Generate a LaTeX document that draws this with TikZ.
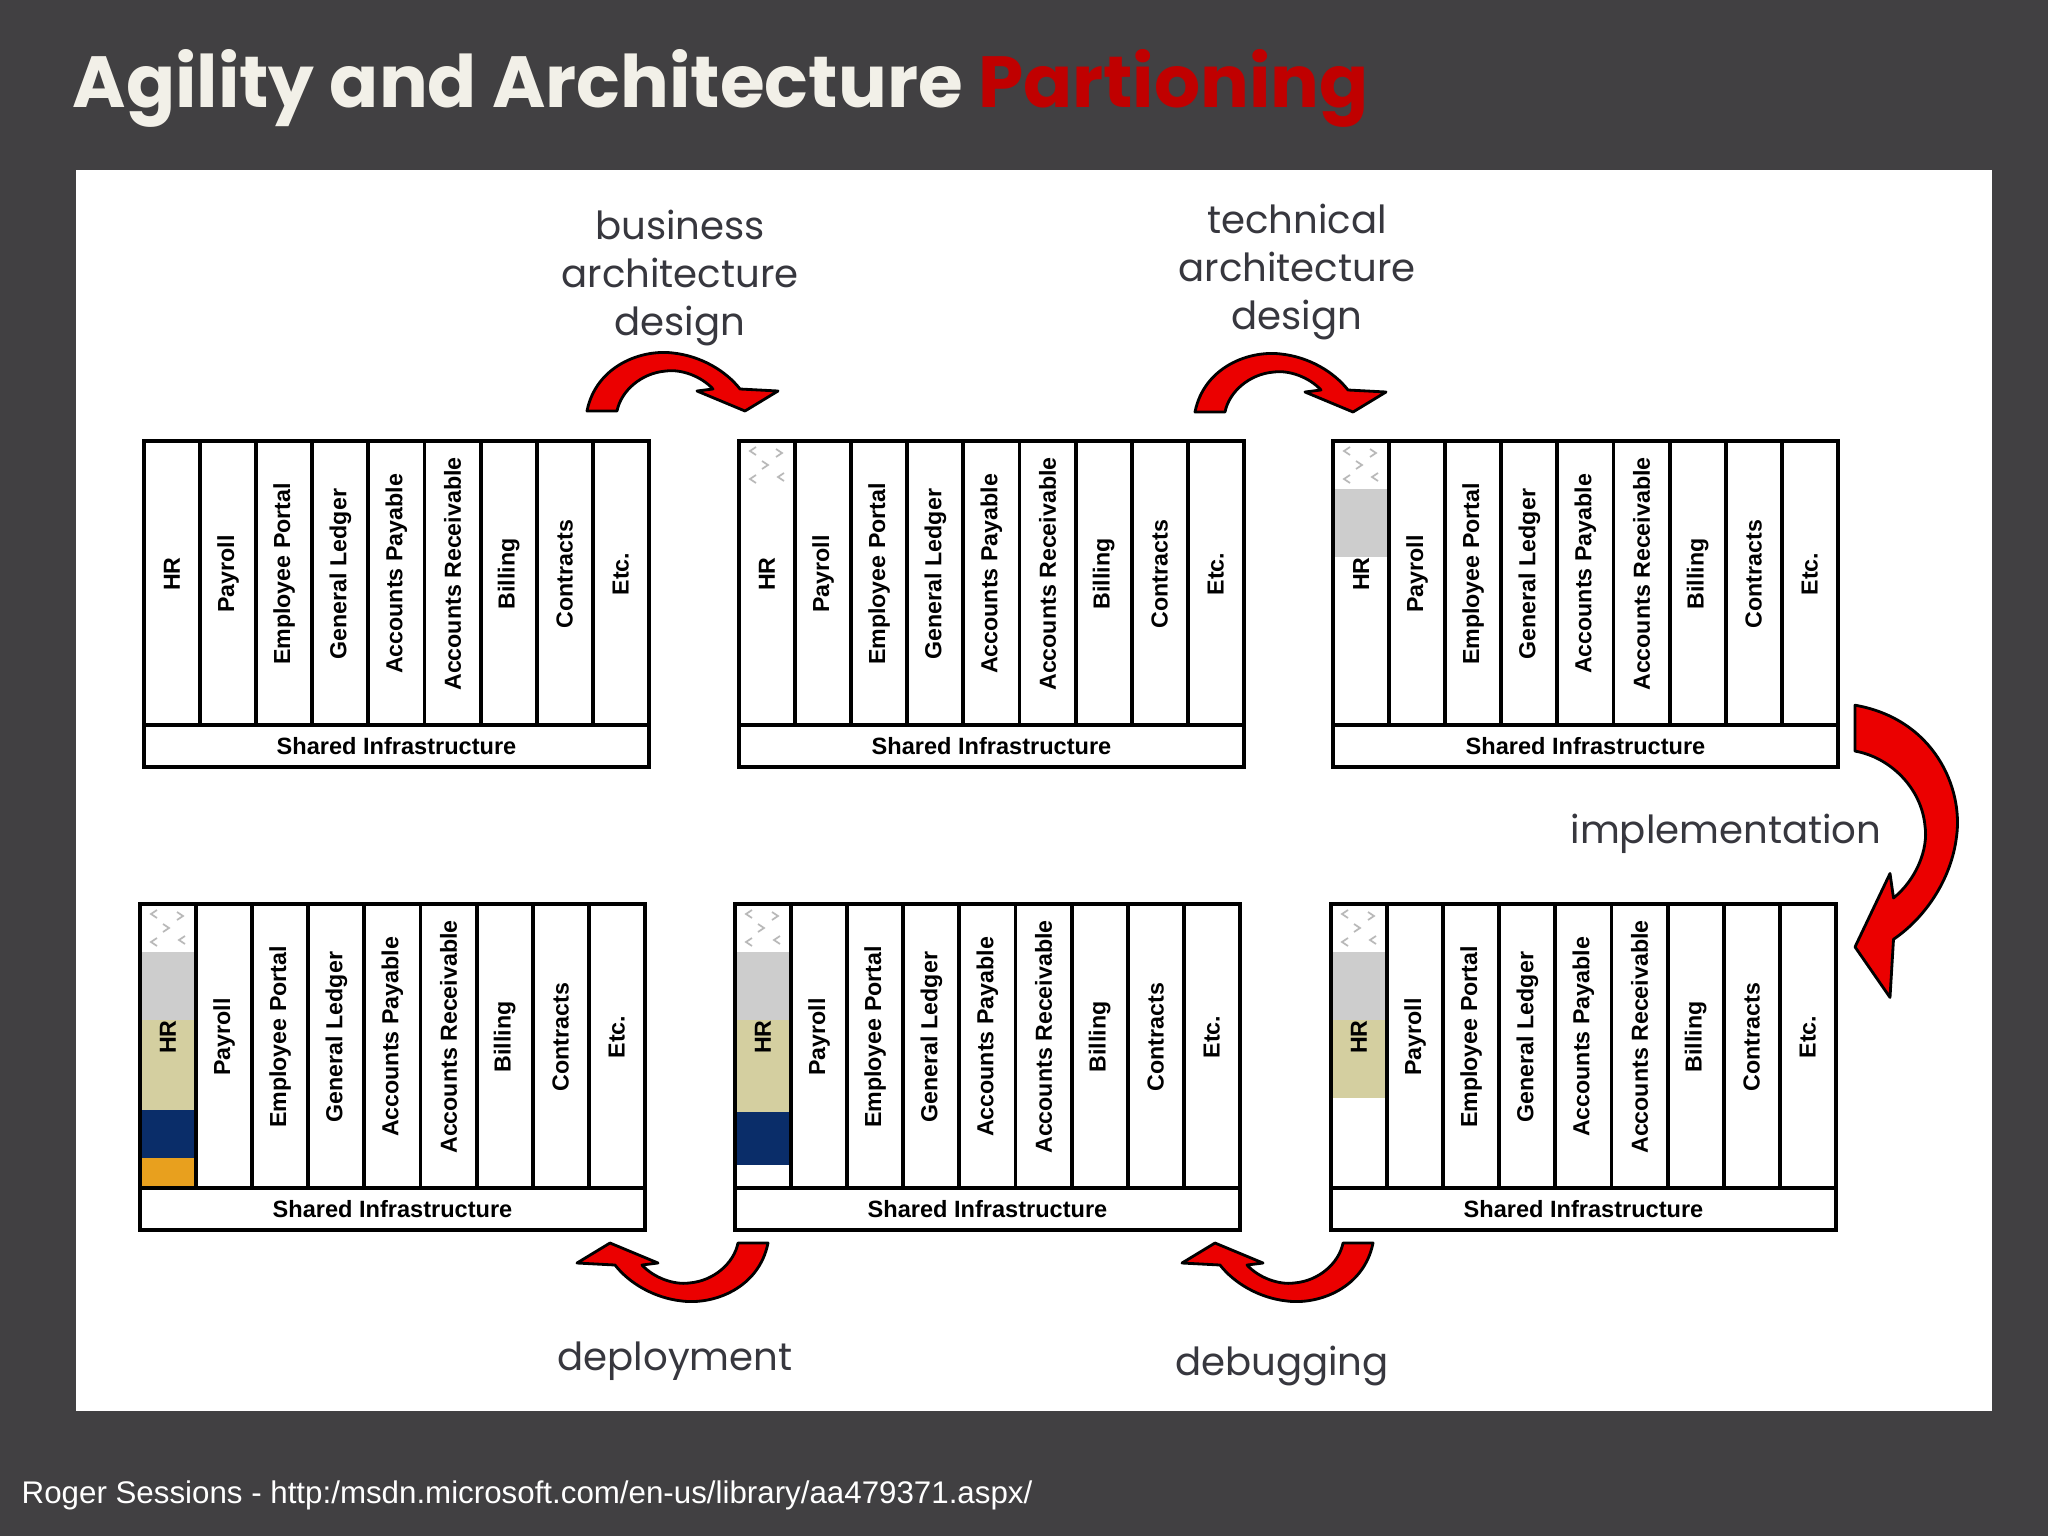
\documentclass[tikz,border=0pt]{standalone}
\usepackage{fontspec}
\setmainfont{Liberation Sans}
\newfontfamily\gothic{Poppins}

\definecolor{slide}{RGB}{65,64,66}
\definecolor{titlewhite}{RGB}{242,240,232}
\definecolor{titlered}{RGB}{192,0,0}
\definecolor{stepgray}{RGB}{205,205,205}
\definecolor{khaki}{RGB}{212,207,160}
\definecolor{navyband}{RGB}{10,45,105}
\definecolor{orangeband}{RGB}{232,160,30}
\definecolor{captiongray}{RGB}{55,55,62}
\definecolor{arrowred}{RGB}{235,0,0}

\tikzset{
  cell/.style={draw=black, line width=1.1pt},
  applabel/.style={rotate=90, font=\bfseries\fontsize{6.6}{7}\selectfont, inner sep=0pt},
  infralabel/.style={font=\bfseries\fontsize{6.7}{7}\selectfont, inner sep=0pt},
  caption/.style={font=\gothic\fontsize{11}{13.7}\selectfont, text=captiongray, align=center},
  redband/.style={fill=arrowred, draw=black, line width=0.8pt, line join=round},
  bendarrow/.pic={
    \path[redband] (-94,0) .. controls (-85,-45) and (-40,-62) .. (-8,-58)
      .. controls (20,-55) and (45,-40) .. (59,-22) -- (97,-20) -- (64,0)
      -- (16,-20) -- (32,-22) .. controls (20,-35) and (0,-42) .. (-15,-40)
      .. controls (-40,-38) and (-60,-20) .. (-64,0) -- cycle;
  },
  partition/.pic={
    % how far the HR column has got
    \ifnum#1>0
      \foreach \cx/\cy/\dir in {14/10/1, 40/12/-1, 26/24/-1, 14/38/1, 42/36/1}
        \draw[gray!55, line width=0.5pt] (\cx+3*\dir,\cy-4) -- (\cx-3*\dir,\cy) -- (\cx+3*\dir,\cy+4);
    \fi
    \ifnum#1>1 \fill[stepgray] (0,48) rectangle (56,116); \fi
    \ifnum#1=3 \fill[khaki] (0,116) rectangle (56,194); \fi
    \ifnum#1=4
      \fill[khaki] (0,116) rectangle (56,208);
      \fill[navyband] (0,208) rectangle (56,261);
    \fi
    \ifnum#1=5
      \fill[khaki] (0,116) rectangle (56,206);
      \fill[navyband] (0,206) rectangle (56,254);
      \fill[orangeband] (0,254) rectangle (56,284);
    \fi
    \foreach \lab [count=\i from 0] in {HR,Payroll,Employee Portal,General Ledger,Accounts Payable,Accounts Receivable,Billing,Contracts,Etc.} {
      \draw[cell] (\i*56.1,0) rectangle ++(56.1,284);
      \node[applabel] (-app\i) at (\i*56.1+28,133) {\lab};
    }
    \draw[cell] (0,284) rectangle (505,326);
    \node[infralabel] (-infra) at (252.5,305) {Shared Infrastructure};
  }
}

\begin{document}
\begin{tikzpicture}[x=0.01cm, y=-0.01cm]
  \fill[slide] (0,0) rectangle (2048,1536);
  \fill[white] (76,170) rectangle (1992,1411);

  \node[anchor=base west, font=\gothic\bfseries\fontsize{20.6}{25}\selectfont, text=titlewhite, inner sep=0pt] (title) at (72,107)
    {Agility and Architecture \textcolor{titlered}{Partioning}};

  % the six stages
  \pic (b1) at (144,441) {partition=0};
  \pic (b2) at (739,441) {partition=1};
  \pic (b3) at (1333,441) {partition=2};
  \pic (b4) at (140,904) {partition=5};
  \pic (b5) at (735,904) {partition=4};
  \pic (b6) at (1331,904) {partition=3};

  % curved arrows between stages
  \pic at (681,411) {bendarrow};
  \pic at (1289,412) {bendarrow};
  \pic[rotate=-90, xscale=1.53, yscale=1.75] at (1855,849) {bendarrow};
  \pic[rotate=180] at (1279,1243) {bendarrow};
  \pic[rotate=180] at (674,1243) {bendarrow};

  \node[caption] (bizdesign) at (680,278) {business\\architecture\\design};
  \node[caption] (techdesign) at (1297,272) {technical\\architecture\\design};
  \node[caption] (impl) at (1726,834) {implementation};
  \node[caption] (debug) at (1282,1366) {debugging};
  \node[caption] (deploy) at (675,1361) {deployment};

  \node[anchor=base west, font=\fontsize{8.9}{10}\selectfont, text=white, inner sep=0pt] (credit) at (21,1503)
    {Roger Sessions - http:/msdn.microsoft.com/en-us/library/aa479371.aspx/};
\end{tikzpicture}
\end{document}
